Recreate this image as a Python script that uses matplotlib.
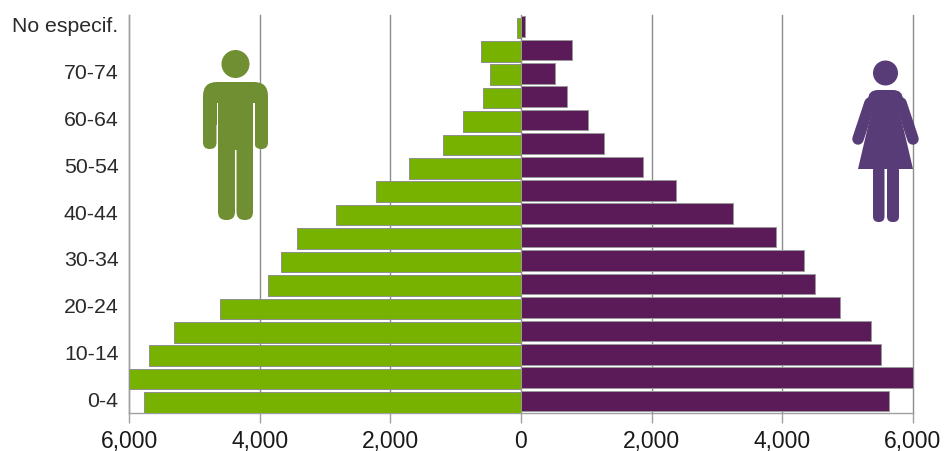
import numpy as np
import matplotlib
matplotlib.use('Agg')
import matplotlib.pyplot as plt
from matplotlib.patches import Circle, FancyBboxPatch, Polygon, Rectangle
from matplotlib.lines import Line2D
from matplotlib.transforms import Affine2D

# grupos de edad, de abajo hacia arriba
age_groups = ['0-4', '5-9', '10-14', '15-19', '20-24', '25-29', '30-34', '35-39', '40-44',
              '45-49', '50-54', '55-59', '60-64', '65-69', '70-74', '75+', 'No especif.']
hombres = [5770, 6000, 5695, 5310, 4610, 3870, 3675, 3430, 2830,
           2220, 1715, 1195, 890, 580, 475, 610, 60]
mujeres = [5635, 6000, 5510, 5360, 4885, 4500, 4335, 3905, 3245,
           2375, 1870, 1270, 1025, 705, 520, 780, 60]
x_ticks = [-6000, -4000, -2000, 0, 2000, 4000, 6000]
x_labels = ['6,000', '4,000', '2,000', '0', '2,000', '4,000', '6,000']

COLOR_H = '#77b200'
COLOR_M = '#5b1a58'
ICON_H = '#708f32'
ICON_M = '#573c78'
GRIS = '#a0a0a0'

plt.rcParams['font.family'] = ['Liberation Sans', 'DejaVu Sans']

W, H = 945, 451
fig = plt.figure(figsize=(W / 100, H / 100), dpi=100)
ax = fig.add_axes([129 / W, (H - 413) / H, 784 / W, 398 / H])

pos = np.arange(len(age_groups))
ax.barh(pos - 0.05, -np.array(hombres), height=0.88, color=COLOR_H, edgecolor='#8f8f8f', linewidth=0.7, zorder=3)
ax.barh(pos + 0.01, mujeres, height=0.88, color=COLOR_M, edgecolor='#9a9a9a', linewidth=0.7, zorder=3)

ax.set_xlim(-6000, 6000)
ax.set_ylim(-0.5, 16.5)
ax.set_xticks(x_ticks)
ax.set_xticklabels(x_labels, fontsize=16.5, color='#1a1a1a')
ax.set_yticks(pos[::2])
ax.set_yticklabels(age_groups[::2], fontsize=15.3, color='#2a2a2a', va='center')
ax.tick_params(axis='y', length=0, pad=7.5)
ax.tick_params(axis='x', length=7, width=1, color=GRIS, pad=5)
ax.grid(True, axis='x', color='#8c8c8c', linewidth=1, zorder=0)
ax.set_axisbelow(True)
for line in ax.get_xgridlines():
    line.set_clip_on(False)

for side in ['top', 'right']:
    ax.spines[side].set_visible(False)
for side in ['left', 'bottom']:
    ax.spines[side].set_color(GRIS)
    ax.spines[side].set_linewidth(1)

# iconos en pixeles de la imagen (origen arriba a la izquierda)
px = Affine2D().scale(1, -1).translate(0, H)


def rounded(x0, y0, x1, y1, r, color):
    fig.add_artist(FancyBboxPatch((x0 + r, y0 + r), x1 - x0 - 2 * r, y1 - y0 - 2 * r,
                                  boxstyle=f'round,pad={r},rounding_size={r}',
                                  facecolor=color, edgecolor='none', transform=px, zorder=5))


def rect(x0, y0, x1, y1, color):
    fig.add_artist(Rectangle((x0, y0), x1 - x0, y1 - y0, facecolor=color, edgecolor='none',
                             transform=px, zorder=5))


def stroke(x0, y0, x1, y1, width, color, cap='round'):
    fig.add_artist(Line2D([x0, x1], [y0, y1], color=color, linewidth=width * 0.72,
                          solid_capstyle=cap, transform=px, zorder=7))


# hombre
fig.add_artist(Circle((235.5, 64), 14, facecolor=ICON_H, edgecolor='none', transform=px, zorder=5))
rounded(203, 82, 268, 125, 14, ICON_H)
rounded(203, 100, 216.5, 149, 6.5, ICON_H)
rounded(254.5, 100, 268, 149, 6.5, ICON_H)
rect(216.5, 103, 218, 150, 'white')
rect(253, 103, 254.5, 150, 'white')
rect(218, 100, 253, 150, ICON_H)
rounded(218, 140, 235, 220, 8, ICON_H)
rounded(236.5, 140, 253, 220, 8, ICON_H)

# mujer
fig.add_artist(Circle((885.5, 73), 12.5, facecolor=ICON_M, edgecolor='none', transform=px, zorder=5))
rounded(868, 90, 903, 112, 10, ICON_M)
stroke(870, 103, 858, 139, 11.5, ICON_M)
stroke(901, 103, 913, 139, 11.5, ICON_M)
fig.add_artist(Polygon([(873, 105), (898, 105), (913, 169), (858, 169)], closed=True, facecolor=ICON_M,
                       edgecolor='none', transform=px, zorder=8))
stroke(873.5, 108, 864, 146, 1.3, 'white', cap='butt')
stroke(897.5, 108, 907, 146, 1.3, 'white', cap='butt')
rounded(873, 165, 884.5, 222, 5.5, ICON_M)
rounded(887, 165, 899, 222, 5.5, ICON_M)

fig.savefig('out.png', dpi=100)
